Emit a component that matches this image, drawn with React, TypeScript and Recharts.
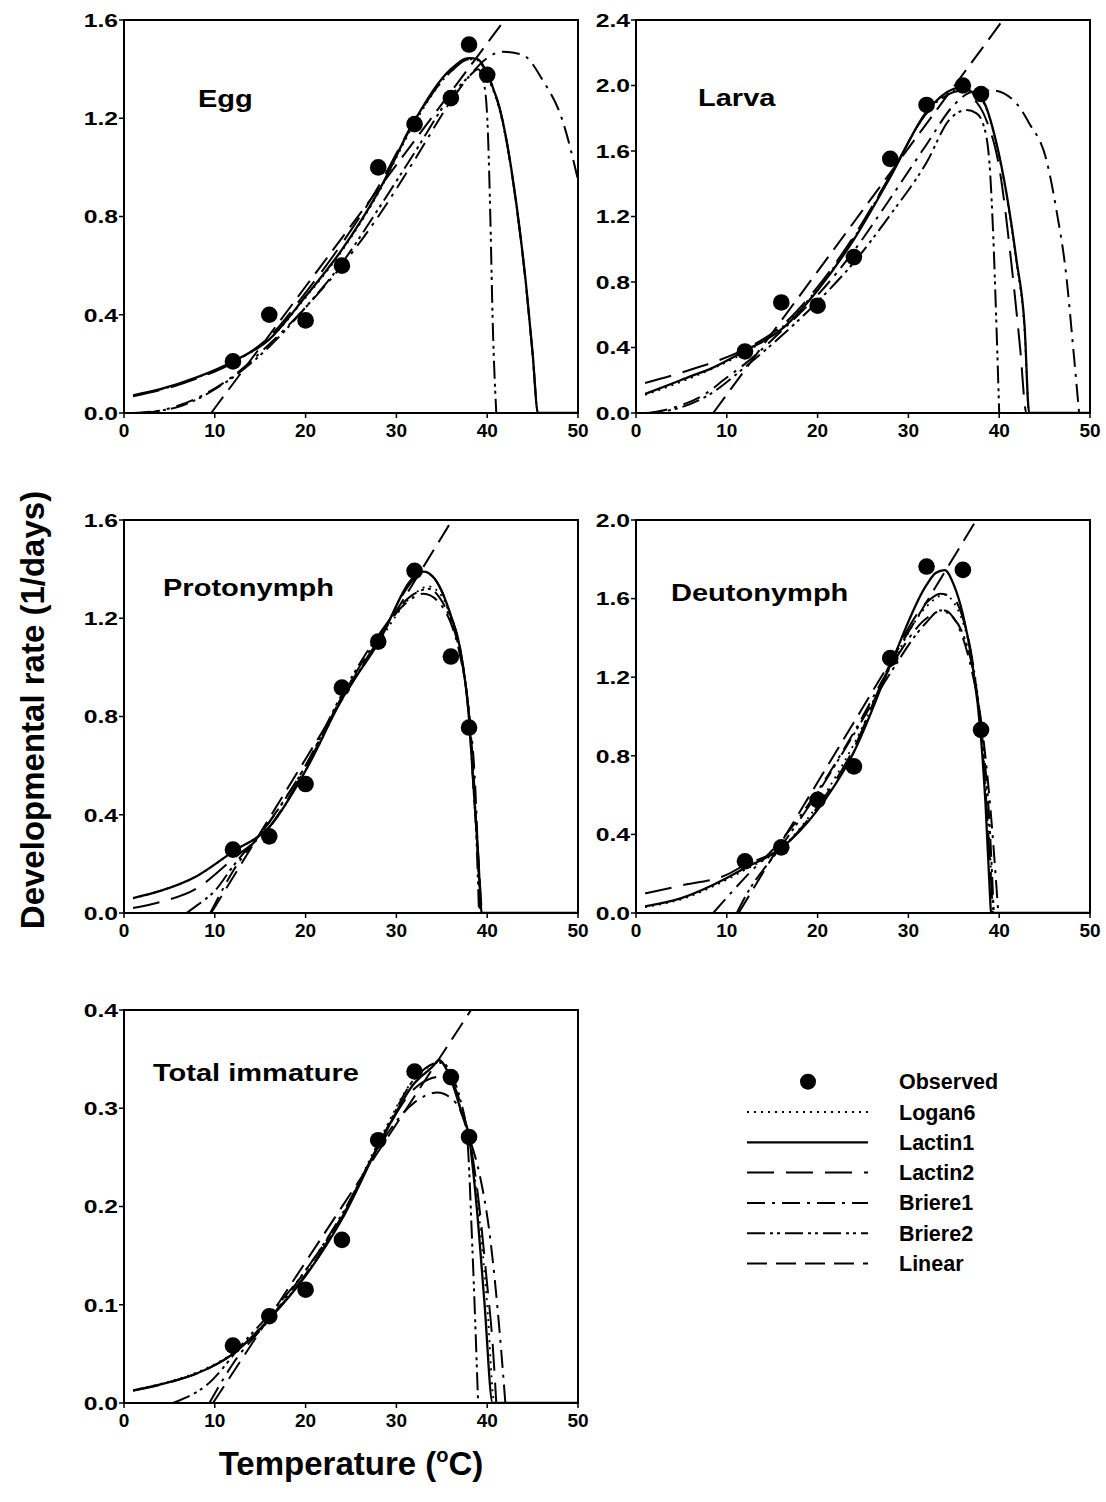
import React from 'react';
import { ComposedChart, Line, Scatter, XAxis, YAxis, ReferenceArea } from 'recharts';

const FONT = '"Liberation Sans", Arial, Helvetica, sans-serif';

// ---------- tick labels ----------
const X_TICKS = [0, 10, 20, 30, 40, 50];
const Y_TICKS_16 = [0, 0.4, 0.8, 1.2, 1.6];
const Y_TICKS_24 = [0, 0.4, 0.8, 1.2, 1.6, 2.0, 2.4];
const Y_TICKS_20 = [0, 0.4, 0.8, 1.2, 1.6, 2.0];
const Y_TICKS_04 = [0, 0.1, 0.2, 0.3, 0.4];

// ---------- legend / series ----------
const SERIES_KEYS = ['logan6', 'lactin1', 'lactin2', 'briere1', 'briere2', 'linear'];
const SERIES_NAMES = ['Logan6', 'Lactin1', 'Lactin2', 'Briere1', 'Briere2', 'Linear'];
const OBS_NAME = 'Observed';
const PANEL_LABELS = ['Egg', 'Larva', 'Protonymph', 'Deutonymph', 'Total immature'];

// ---------- Egg ----------
const eggObsT = [12, 16, 20, 24, 28, 32, 36, 38, 40];
const eggObsV = [0.21, 0.40, 0.377, 0.60, 1.00, 1.176, 1.282, 1.50, 1.377];
const eggLogan6 = [[1, 0.07], [4, 0.095], [8, 0.143], [12, 0.208], [16, 0.30], [20, 0.47], [24, 0.66], [28, 0.895], [32, 1.18], [36, 1.39], [38, 1.44], [39, 1.435], [40, 1.37], [41.7, 1.18], [43.2, 0.85], [44.3, 0.51], [45, 0.24], [45.6, 0], [50, 0]];
const eggLactin1 = [[1, 0.072], [4, 0.097], [8, 0.145], [12, 0.21], [16, 0.30], [20, 0.475], [24, 0.665], [28, 0.90], [32, 1.19], [36, 1.40], [38, 1.445], [39, 1.44], [40, 1.38], [41.7, 1.19], [43.2, 0.855], [44.3, 0.515], [45, 0.244], [45.6, 0], [50, 0]];
const eggLactin2 = [[1, 0.068], [4, 0.093], [8, 0.14], [12, 0.205], [16, 0.31], [20, 0.49], [24, 0.69], [28, 0.92], [32, 1.19], [36, 1.39], [38, 1.44], [39, 1.435], [40, 1.38], [41.7, 1.19], [43.2, 0.85], [44.3, 0.51], [45, 0.24], [45.6, 0], [50, 0]];
const eggBriere1 = [[2, 0], [4, 0.01], [8, 0.06], [12, 0.15], [16, 0.28], [20, 0.43], [24, 0.60], [28, 0.80], [32, 1.03], [36, 1.27], [38, 1.37], [40, 1.445], [41.7, 1.471], [43.9, 1.458], [46.1, 1.356], [48.3, 1.19], [50, 0.95]];
const eggBriere2 = [[1, 0], [4, 0.01], [6, 0.025], [8, 0.055], [10.5, 0.108], [12, 0.145], [16, 0.27], [20, 0.43], [24, 0.61], [28, 0.83], [32, 1.06], [36, 1.29], [38, 1.37], [39, 1.40], [39.7, 1.33], [40.1, 1.12], [40.35, 0.79], [40.6, 0.38], [41, 0]];
const eggLinear = [[9.6, 0], [20, 0.515], [30, 1.01], [42, 1.604]];

// ---------- Larva ----------
const larvaObsT = [12, 16, 20, 24, 28, 32, 36, 38];
const larvaObsV = [0.376, 0.675, 0.655, 0.952, 1.552, 1.881, 2.0, 1.948];
const larvaLogan6 = [[1, 0.11], [4, 0.17], [8, 0.26], [12, 0.37], [16, 0.52], [20, 0.76], [24, 1.07], [28, 1.45], [32, 1.83], [35, 1.97], [36, 1.98], [37, 1.95], [38.2, 1.9], [39.7, 1.64], [40.8, 1.33], [41.9, 0.92], [42.8, 0.5], [43.3, 0], [50, 0]];
const larvaLactin1 = [[1, 0.116], [4, 0.18], [6, 0.224], [8, 0.265], [12, 0.38], [16, 0.51], [20, 0.75], [24, 1.06], [28, 1.44], [32, 1.84], [35, 1.98], [36, 1.99], [37, 1.96], [38.2, 1.91], [39.7, 1.647], [40.8, 1.342], [41.9, 0.935], [42.8, 0.528], [43.3, 0], [50, 0]];
const larvaLactin2 = [[1, 0.183], [4, 0.23], [6, 0.264], [8, 0.30], [12, 0.39], [16, 0.53], [20, 0.77], [24, 1.08], [28, 1.45], [32, 1.83], [35, 1.96], [36, 1.97], [37, 1.93], [38.5, 1.8], [40, 1.50], [41.5, 0.833], [42.3, 0.4], [43, 0], [50, 0]];
const larvaBriere1 = [[1.5, 0], [4, 0.03], [8, 0.13], [9.6, 0.2], [12, 0.30], [16, 0.50], [20, 0.72], [24, 0.99], [28, 1.31], [32, 1.64], [35, 1.88], [37, 1.96], [39.3, 1.97], [41.9, 1.89], [43.3, 1.77], [45.2, 1.545], [46.3, 1.24], [47.4, 0.833], [48.1, 0.427], [48.8, 0]];
const larvaBriere2 = [[1, 0], [4, 0.02], [8, 0.11], [12, 0.28], [16, 0.47], [20, 0.68], [24, 0.92], [28, 1.21], [32, 1.53], [34.5, 1.79], [36.4, 1.85], [37.5, 1.83], [38.2, 1.77], [38.9, 1.545], [39.3, 1.14], [39.7, 0.528], [40, 0]];
const larvaLinear = [[8.5, 0], [20, 0.865], [30, 1.617], [41, 2.444]];

// ---------- Protonymph ----------
const protoObsT = [12, 16, 20, 24, 28, 32, 36, 38];
const protoObsV = [0.258, 0.312, 0.525, 0.918, 1.105, 1.393, 1.044, 0.755];
const protoLogan6 = [[1, 0.06], [4, 0.09], [8, 0.15], [12, 0.25], [16, 0.35], [20, 0.58], [24, 0.87], [28, 1.10], [32, 1.30], [33.5, 1.33], [35, 1.29], [36, 1.20], [37, 1.07], [38, 0.79], [38.5, 0.5], [39, 0.2], [39.3, 0], [50, 0]];
const protoLactin1 = [[1, 0.061], [4, 0.09], [8, 0.15], [12, 0.25], [16, 0.35], [20, 0.58], [24, 0.87], [28, 1.10], [32, 1.37], [33, 1.39], [34, 1.37], [35, 1.31], [36, 1.21], [37, 1.08], [38, 0.79], [38.5, 0.51], [39, 0.24], [39.4, 0], [50, 0]];
const protoLactin2 = [[1, 0.02], [4, 0.045], [8, 0.10], [12, 0.22], [16, 0.35], [20, 0.59], [24, 0.88], [28, 1.11], [32, 1.36], [33, 1.385], [34, 1.37], [35, 1.31], [36, 1.21], [37, 1.08], [38, 0.79], [38.5, 0.51], [39, 0.24], [39.4, 0]];
const protoBriere1 = [[9.5, 0], [12, 0.17], [16, 0.37], [20, 0.60], [24, 0.88], [28, 1.12], [31, 1.26], [33, 1.30], [35, 1.25], [36, 1.18], [37, 1.05], [38, 0.82], [38.7, 0.5], [39.2, 0]];
const protoBriere2 = [[6.9, 0], [8, 0.03], [10, 0.09], [12, 0.19], [16, 0.37], [20, 0.60], [24, 0.89], [28, 1.13], [32, 1.30], [33.5, 1.32], [35, 1.27], [36, 1.19], [37, 1.06], [38, 0.81], [38.6, 0.5], [39.1, 0]];
const protoLinear = [[9.6, 0], [20, 0.627], [30, 1.23], [37, 1.652]];

// ---------- Deutonymph ----------
const deutoObsT = [12, 16, 20, 24, 28, 32, 36, 38];
const deutoObsV = [0.263, 0.334, 0.576, 0.746, 1.297, 1.763, 1.746, 0.932];
const deutoLogan6 = [[1, 0.03], [5, 0.07], [10, 0.17], [12, 0.22], [16, 0.33], [20, 0.55], [24, 0.86], [28, 1.25], [32, 1.56], [34, 1.62], [35, 1.58], [36, 1.48], [37, 1.30], [38, 0.95], [39, 0.3], [39.4, 0], [50, 0]];
const deutoLactin1 = [[1, 0.034], [5, 0.076], [10, 0.178], [12, 0.229], [16, 0.33], [20, 0.525], [24, 0.82], [28, 1.26], [32, 1.67], [33, 1.73], [34, 1.745], [35, 1.67], [36, 1.52], [37, 1.28], [38, 0.89], [38.5, 0.55], [39, 0.076], [39.1, 0], [50, 0]];
const deutoLactin2 = [[1, 0.10], [5, 0.14], [10, 0.195], [12, 0.245], [16, 0.33], [20, 0.54], [24, 0.84], [28, 1.27], [32, 1.58], [33.5, 1.625], [35, 1.60], [36, 1.50], [37, 1.30], [38, 0.92], [39, 0.25], [39.3, 0]];
const deutoBriere1 = [[8.5, 0], [12, 0.18], [16, 0.37], [20, 0.62], [24, 0.92], [28, 1.25], [32, 1.50], [34, 1.54], [35, 1.50], [36, 1.40], [37, 1.23], [38, 0.98], [39, 0.55], [39.9, 0]];
const deutoBriere2 = [[11.1, 0], [12, 0.08], [16, 0.34], [20, 0.61], [24, 0.91], [28, 1.22], [32, 1.48], [33.5, 1.54], [35, 1.50], [36, 1.42], [37, 1.26], [38, 0.95], [39, 0.40], [39.4, 0]];
const deutoLinear = [[11.3, 0], [20, 0.665], [30, 1.43], [38, 2.04]];

// ---------- Total immature ----------
const totalObsT = [12, 16, 20, 24, 28, 32, 36, 38];
const totalObsV = [0.0585, 0.0883, 0.1153, 0.166, 0.2675, 0.3374, 0.3317, 0.2708];
const totalLogan6 = [[1, 0.013], [5, 0.022], [8, 0.031], [12, 0.051], [16, 0.086], [20, 0.131], [24, 0.19], [28, 0.265], [32, 0.33], [34, 0.344], [35, 0.346], [36, 0.335], [37.2, 0.295], [38, 0.27], [39, 0.2], [40, 0.1], [40.8, 0], [50, 0]];
const totalLactin1 = [[1, 0.0128], [5, 0.0213], [8, 0.030], [12, 0.050], [16, 0.0855], [20, 0.1295], [24, 0.187], [28, 0.261], [32, 0.3256], [34, 0.3425], [34.7, 0.349], [35.8, 0.334], [37.2, 0.295], [38, 0.271], [38.8, 0.204], [39.7, 0.102], [40.6, 0], [50, 0]];
const totalLactin2 = [[1, 0.0125], [5, 0.021], [8, 0.030], [12, 0.050], [16, 0.086], [20, 0.131], [24, 0.189], [28, 0.262], [32, 0.320], [34, 0.331], [35.5, 0.333], [36.5, 0.320], [37.5, 0.29], [38, 0.271], [39, 0.21], [40, 0.12], [40.6, 0.06], [41, 0]];
const totalBriere1 = [[9.4, 0], [12, 0.04], [16, 0.085], [20, 0.135], [24, 0.19], [28, 0.26], [32, 0.306], [34.5, 0.316], [36.6, 0.305], [38.1, 0.268], [39.2, 0.231], [40.3, 0.17], [41.4, 0.069], [42, 0]];
const totalBriere2 = [[5.4, 0], [9.07, 0.018], [13.5, 0.065], [16, 0.09], [20, 0.135], [24, 0.192], [28, 0.262], [32, 0.33], [34, 0.345], [35, 0.347], [36, 0.335], [37, 0.31], [37.8, 0.27], [38.4, 0.15], [39, 0]];
const totalLinear = [[9.8, 0], [20, 0.1435], [30, 0.284], [38.5, 0.404]];

// ---------- styles ----------
const STYLE: Record<string, { dash?: string; w: number }> = {
  logan6: { dash: '2 5', w: 1.8 },
  lactin1: { dash: undefined, w: 2.3 },
  lactin2: { dash: '27 12', w: 2 },
  briere1: { dash: '18 7 3 7', w: 2 },
  briere2: { dash: '18 5 3 4 3 5', w: 2 },
  linear: { dash: '20 9', w: 2 },
};

const pts = (pairs: number[][]) => pairs.map(([T, v]) => ({ T, v }));
const obsPts = (ts: number[], vs: number[]) => ts.map((T, i) => ({ T, v: vs[i] }));

const PANELS = [
  { left: 64, top: 10, yMax: 1.6, yTicks: Y_TICKS_16, obs: obsPts(eggObsT, eggObsV),
    curves: { logan6: eggLogan6, lactin1: eggLactin1, lactin2: eggLactin2, briere1: eggBriere1, briere2: eggBriere2, linear: eggLinear } },
  { left: 576, top: 10, yMax: 2.4, yTicks: Y_TICKS_24, obs: obsPts(larvaObsT, larvaObsV),
    curves: { logan6: larvaLogan6, lactin1: larvaLactin1, lactin2: larvaLactin2, briere1: larvaBriere1, briere2: larvaBriere2, linear: larvaLinear } },
  { left: 64, top: 510, yMax: 1.6, yTicks: Y_TICKS_16, obs: obsPts(protoObsT, protoObsV),
    curves: { logan6: protoLogan6, lactin1: protoLactin1, lactin2: protoLactin2, briere1: protoBriere1, briere2: protoBriere2, linear: protoLinear } },
  { left: 576, top: 510, yMax: 2.0, yTicks: Y_TICKS_20, obs: obsPts(deutoObsT, deutoObsV),
    curves: { logan6: deutoLogan6, lactin1: deutoLactin1, lactin2: deutoLactin2, briere1: deutoBriere1, briere2: deutoBriere2, linear: deutoLinear } },
  { left: 64, top: 1000, yMax: 0.4, yTicks: Y_TICKS_04, obs: obsPts(totalObsT, totalObsV),
    curves: { logan6: totalLogan6, lactin1: totalLactin1, lactin2: totalLactin2, briere1: totalBriere1, briere2: totalBriere2, linear: totalLinear } },
];

const LABEL_POS = [
  { x: 198, y: 107 },
  { x: 698, y: 106 },
  { x: 163, y: 596 },
  { x: 671, y: 601 },
  { x: 153, y: 1081 },
];

const tickStyle = { fontSize: 19, fontWeight: 700, fontFamily: FONT, fill: '#000' };
const axisLine = { stroke: '#000', strokeWidth: 2 };

const Dot = (props: any) => <circle cx={props.cx} cy={props.cy} r={8.3} fill="#000" />;

const YTick = (props: any) => {
  const { x, y, payload } = props;
  return (
    <text x={x} y={y} dy="0.36em" textAnchor="end" fontSize={19} fontWeight={700} fontFamily={FONT} fill="#000"
      transform={`translate(${x} ${y}) scale(1.3 1) translate(${-x} ${-y})`}>
      {Number(payload.value).toFixed(1)}
    </text>
  );
};

function Panel({ p }: { p: any }) {
  return (
    <div style={{ position: 'absolute', left: p.left, top: p.top }}>
      <ComposedChart width={526} height={433} margin={{ top: 10, right: 12, bottom: 0, left: 0 }}>
        <XAxis xAxisId="b" dataKey="T" type="number" domain={[0, 50]} ticks={X_TICKS} allowDataOverflow
          height={30} tick={tickStyle} tickSize={5} tickMargin={6} axisLine={axisLine}
          tickLine={{ stroke: '#000', strokeWidth: 1.5 }} interval={0} />
        <YAxis yAxisId="l" type="number" domain={[0, p.yMax]} ticks={p.yTicks} allowDataOverflow width={60}
          tick={<YTick />} tickSize={5} tickMargin={1} axisLine={axisLine}
          tickLine={{ stroke: '#000', strokeWidth: 1.5 }} interval={0} />
        <ReferenceArea xAxisId="b" yAxisId="l" x1={0} x2={50} y1={0} y2={p.yMax} fill="none" fillOpacity={0}
          stroke="#000" strokeWidth={2} ifOverflow="visible" />
        {SERIES_KEYS.map((k) => (
          <Line key={k} xAxisId="b" yAxisId="l" data={pts(p.curves[k])} dataKey="v" type="monotone"
            stroke="#000" strokeWidth={STYLE[k].w} strokeDasharray={STYLE[k].dash}
            dot={false} activeDot={false} isAnimationActive={false} />
        ))}
        <Scatter xAxisId="b" yAxisId="l" data={p.obs} dataKey="v" shape={Dot} isAnimationActive={false} />
      </ComposedChart>
    </div>
  );
}

function Overlay() {
  const legendTop = 1081.7;
  const rowH = 30.3;
  return (
    <svg width={1106} height={1502} style={{ position: 'absolute', left: 0, top: 0, pointerEvents: 'none' }}>
      {PANEL_LABELS.map((t, i) => {
        const { x, y } = LABEL_POS[i];
        return (
          <text key={t} x={x} y={y} fontFamily={FONT} fontWeight={700} fontSize={24} fill="#000"
            transform={`translate(${x} ${y}) scale(1.21 1) translate(${-x} ${-y})`}>{t}</text>
        );
      })}
      <text x={44} y={710} transform="rotate(-90 44 710)" textAnchor="middle" fontFamily={FONT}
        fontWeight={700} fontSize={33} fill="#000">Developmental rate (1/days)</text>
      <text x={351} y={1475} textAnchor="middle" fontFamily={FONT} fontWeight={700} fontSize={33} fill="#000">
        Temperature (<tspan dy={-13} fontSize={20}>o</tspan><tspan dy={13}>C)</tspan>
      </text>
      {/* legend */}
      <circle cx={808} cy={legendTop} r={8} fill="#000" />
      <text x={899} y={legendTop + 7.5} fontFamily={FONT} fontWeight={700} fontSize={21.5} fill="#000">{OBS_NAME}</text>
      {SERIES_KEYS.map((k, i) => {
        const y = legendTop + rowH * (i + 1);
        return (
          <g key={k}>
            <line x1={747} x2={868} y1={y} y2={y} stroke="#000" strokeWidth={STYLE[k].w}
              strokeDasharray={STYLE[k].dash} />
            <text x={899} y={y + 7.5} fontFamily={FONT} fontWeight={700} fontSize={21.5} fill="#000">{SERIES_NAMES[i]}</text>
          </g>
        );
      })}
    </svg>
  );
}

export default function App() {
  return (
    <div style={{ position: 'absolute', left: 0, top: 0, width: 1106, height: 1502, background: '#fff' }}>
      {PANELS.map((p, i) => <Panel key={i} p={p} />)}
      <Overlay />
    </div>
  );
}
